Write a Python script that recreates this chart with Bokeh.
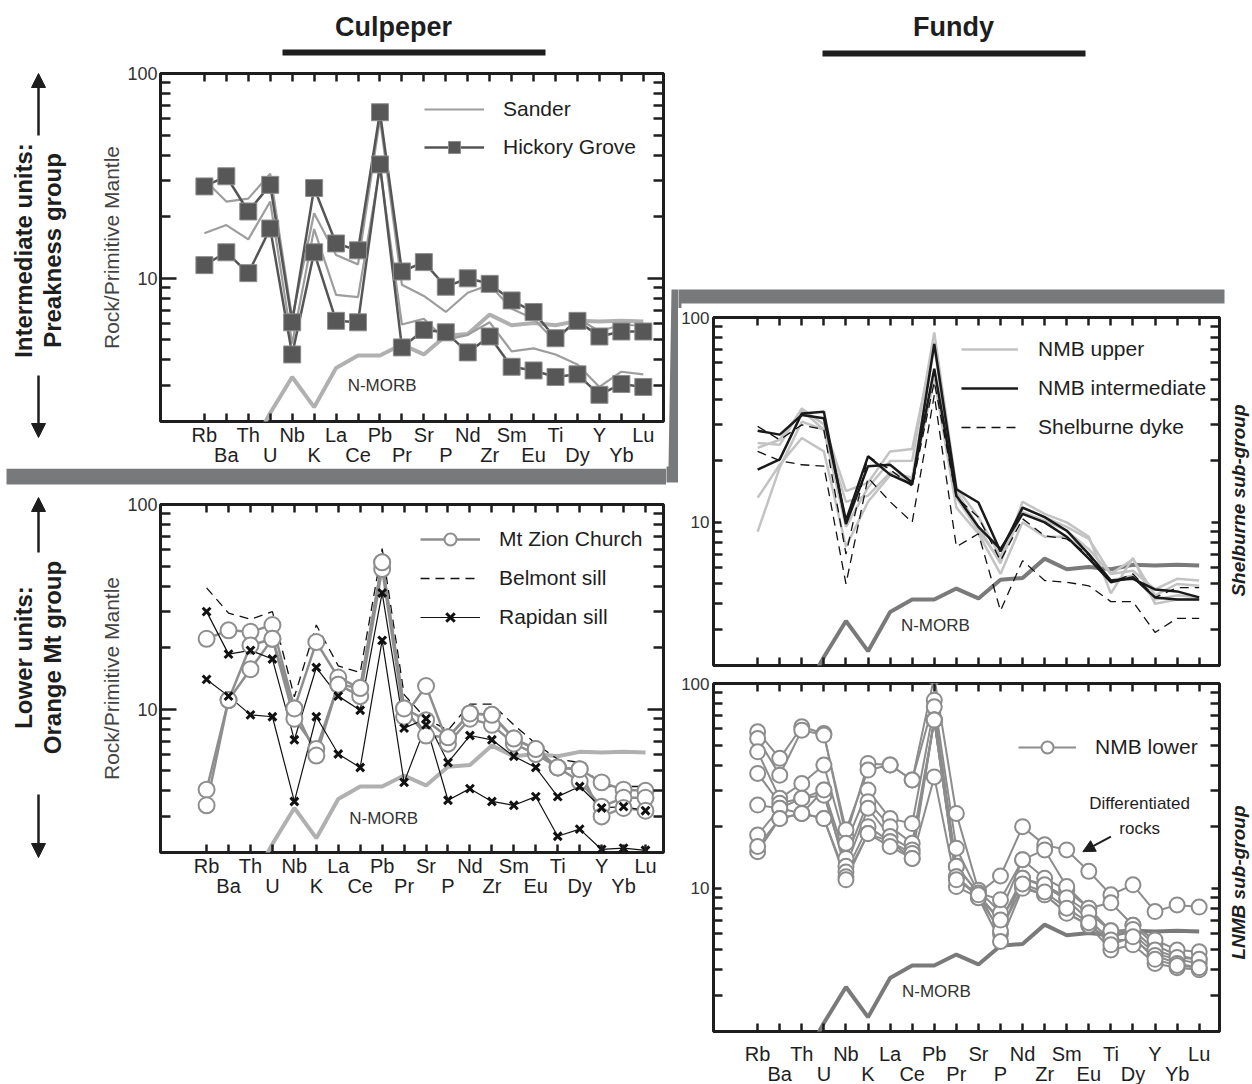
import math
from bokeh.plotting import figure
from bokeh.layouts import row, column
from bokeh.models import (Range1d, LogAxis, LinearAxis, FixedTicker, BasicTickFormatter,
                          Legend, LegendItem, Arrow, NormalHead)
from bokeh.core.properties import value
from bokeh.embed import file_html
from bokeh.resources import INLINE

FONT = "Liberation Sans"
INK = "#1e1e1e"

# ---------------- data ----------------
elements = ["Rb", "Ba", "Th", "U", "Nb", "K", "La", "Ce", "Pb", "Pr", "Sr",
            "P", "Nd", "Zr", "Sm", "Eu", "Ti", "Dy", "Y", "Yb", "Lu"]
pos = list(range(len(elements)))

n_morb = [0.9, 0.9, 1.4, 2.2, 3.3, 2.35, 3.65, 4.2, 4.2, 4.75, 4.25, 5.25, 5.35, 6.65, 5.9, 6.05, 5.9, 6.2, 6.15, 6.2, 6.15]

# Culpeper - intermediate units (Preakness group)
sander_1 = [30.3, 23.7, 24.5, 32.4, 6.4, 20.8, 13.0, 11.7, 60.0, 9.3, 8.2, 6.85, 8.5, 9.3, 7.1, 6.35, 4.9, 6.4, 5.5, 5.95, 5.85]
sander_2 = [16.6, 18.2, 15.5, 23.7, 4.8, 17.4, 8.3, 8.1, 34.6, 5.95, 6.35, 5.0, 5.3, 6.1, 4.4, 4.55, 4.25, 3.8, 2.95, 3.5, 3.4]
hickory_1 = [28.1, 31.5, 21.2, 28.6, 6.1, 27.6, 14.8, 13.7, 64.7, 10.8, 12.0, 9.1, 10.0, 9.4, 7.8, 6.85, 5.1, 6.2, 5.2, 5.5, 5.5]
hickory_2 = [11.6, 13.4, 10.6, 17.5, 4.25, 13.4, 6.2, 6.1, 36.0, 4.6, 5.6, 5.45, 4.35, 5.2, 3.7, 3.55, 3.3, 3.4, 2.7, 3.05, 2.95]

# Culpeper - lower units (Orange Mt group)
mtzion_1 = [22.1, 24.3, 23.9, 25.8, 10.1, 21.3, 14.3, 12.7, 52.2, 10.1, 7.45, 7.3, 9.55, 9.4, 7.2, 6.4, 5.2, 5.1, 4.4, 4.05, 4.0]
mtzion_2 = [4.05, 11.1, 20.5, 22.1, 9.0, 6.4, 13.2, 11.6, 48.4, 9.2, 13.0, 6.8, 9.0, 8.4, 6.8, 6.05, 5.2, 4.45, 3.35, 3.7, 3.7]
mtzion_3 = [3.4, 11.1, 15.7, 22.1, 10.1, 5.95, 13.2, 12.7, 52.2, 10.1, 8.85, 7.3, 9.55, 9.4, 7.2, 6.4, 5.2, 5.1, 3.0, 3.3, 3.2]
belmont = [39.2, 29.5, 27.5, 30.0, 11.5, 25.8, 16.3, 15.1, 60.9, 11.8, 9.0, 7.9, 10.6, 10.6, 8.4, 6.8, 5.7, 5.5, 4.2, 4.2, 4.2]
rapidan_1 = [30.0, 18.6, 19.4, 17.6, 7.1, 16.0, 11.6, 9.9, 37.0, 8.1, 9.0, 5.5, 7.45, 7.1, 5.9, 5.2, 3.75, 4.2, 3.3, 3.35, 3.2]
rapidan_2 = [14.0, 11.6, 9.4, 9.2, 3.55, 9.2, 6.05, 5.2, 21.7, 4.4, 8.4, 3.6, 4.1, 3.55, 3.4, 3.75, 2.4, 2.6, 2.07, 2.1, 2.05]

# Fundy - Shelburne sub-group
nmb_upper_1 = [9.0, 18.5, 31.0, 28.3, 9.5, 14.8, 19.9, 20.0, 84.6, 14.8, 10.6, 6.8, 11.8, 10.6, 9.5, 8.3, 5.6, 6.6, 4.4, 5.0, 4.9]
nmb_upper_2 = [13.2, 19.1, 25.8, 22.2, 7.6, 12.6, 17.0, 15.9, 50.0, 11.8, 8.8, 5.6, 10.0, 8.5, 8.5, 7.0, 5.2, 5.5, 4.2, 4.4, 4.3]
nmb_upper_3 = [24.4, 23.9, 36.0, 30.0, 14.2, 15.6, 22.2, 22.8, 75.7, 14.2, 9.5, 6.3, 12.6, 11.0, 10.0, 8.5, 4.5, 6.7, 4.0, 4.2, 4.2]
nmb_upper_4 = [23.1, 25.3, 35.3, 28.3, 12.6, 13.5, 17.5, 16.5, 72.9, 13.2, 9.1, 6.5, 11.2, 10.2, 9.1, 7.4, 5.6, 5.8, 4.7, 5.3, 5.2]
nmb_inter_1 = [28.0, 26.8, 33.4, 32.2, 10.2, 21.0, 17.1, 15.3, 74.3, 14.5, 12.5, 7.2, 11.8, 10.6, 9.1, 7.0, 5.2, 5.3, 4.7, 4.6, 4.3]
nmb_inter_2 = [18.1, 20.3, 34.0, 34.7, 9.8, 18.8, 19.1, 15.6, 56.2, 13.5, 9.5, 7.4, 11.0, 10.0, 8.5, 6.65, 5.1, 5.4, 4.3, 4.2, 4.2]
shelburne_1 = [29.4, 25.3, 29.9, 28.3, 7.0, 21.0, 18.1, 15.0, 48.5, 13.2, 10.6, 6.5, 10.4, 8.6, 8.3, 6.9, 5.1, 5.6, 4.3, 4.8, 4.8]
shelburne_2 = [22.2, 20.0, 19.1, 18.8, 5.0, 16.5, 12.6, 10.0, 41.8, 7.6, 8.8, 3.7, 6.5, 5.2, 5.1, 4.9, 4.1, 4.1, 2.9, 3.4, 3.4]

# Fundy - LNMB sub-group
nmb_lower_1 = [58.1, 43.1, 61.5, 57.0, 17.9, 40.7, 40.0, 33.8, 82.9, 15.7, 9.5, 6.0, 11.2, 10.2, 8.8, 7.0, 5.6, 6.6, 5.3, 4.7, 4.5]
nmb_lower_2 = [53.9, 35.7, 59.2, 56.0, 19.3, 37.8, 40.0, 33.8, 107.8, 23.2, 9.8, 7.6, 13.8, 11.2, 9.8, 8.0, 6.2, 6.0, 4.8, 4.5, 4.3]
nmb_lower_3 = [46.4, 27.5, 32.5, 40.0, 16.6, 30.2, 21.9, 20.7, 76.9, 12.8, 9.46, 11.5, 20.0, 16.3, 15.4, 12.1, 9.3, 10.4, 7.7, 8.3, 8.1]
nmb_lower_4 = [36.4, 26.0, 27.5, 30.2, 14.0, 26.5, 20.0, 16.6, 66.3, 12.8, 9.5, 8.8, 13.8, 15.4, 10.2, 8.0, 8.5, 6.6, 5.6, 5.0, 4.9]
nmb_lower_5 = [25.5, 24.6, 27.5, 28.5, 12.8, 24.6, 17.9, 15.4, 66.3, 11.4, 9.2, 6.9, 11.2, 10.4, 9.0, 7.6, 6.2, 6.3, 5.0, 4.6, 4.5]
nmb_lower_6 = [18.2, 24.6, 23.2, 30.2, 12.0, 20.0, 16.9, 14.8, 66.3, 11.4, 9.0, 6.2, 10.2, 9.3, 7.6, 6.6, 5.6, 5.6, 4.7, 4.3, 4.1]
nmb_lower_7 = [15.1, 21.9, 23.2, 21.9, 11.4, 18.5, 16.9, 14.0, 35.0, 10.2, 9.0, 5.5, 10.0, 9.3, 7.55, 6.6, 5.0, 5.3, 4.3, 4.1, 4.0]
nmb_lower_8 = [16.0, 21.9, 23.2, 21.9, 11.0, 18.5, 16.0, 14.0, 66.3, 11.0, 9.3, 7.0, 10.5, 9.6, 8.0, 6.8, 5.3, 5.8, 4.5, 4.2, 4.1]

Y_MAJOR = [10, 100]
Y_MINOR = [2, 3, 4, 5, 6, 7, 8, 9, 20, 30, 40, 50, 60, 70, 80, 90]
DASH = "9 6"


# ---------------- panel builder ----------------
def style_ticks(ax, tin, min_in, tout=0):
    ax.axis_line_color = None
    ax.major_tick_in = tin
    ax.major_tick_out = tout
    ax.minor_tick_in = min_in
    ax.minor_tick_out = 0
    ax.major_tick_line_color = INK
    ax.minor_tick_line_color = INK
    ax.major_tick_line_width = 2.5
    ax.minor_tick_line_width = 2.5


def make_panel(lb, rb, tb, bb, fw, xr, xlabels, xfont, xstand, ylabel,
               yfont, ystand, major_in, minor_in, nm_color, nm_xy):
    p = figure(frame_width=fw, frame_height=348, x_range=Range1d(*xr), y_range=Range1d(2, 100),
               y_axis_type="log", x_axis_location=None, y_axis_location=None,
               toolbar_location=None, output_backend="svg", title=None,
               min_border_left=lb, min_border_right=rb, min_border_top=tb, min_border_bottom=bb,
               outline_line_color=INK, outline_line_width=3,
               background_fill_color="white", border_fill_color="white")
    p.grid.visible = False

    la = LogAxis(ticker=FixedTicker(ticks=Y_MAJOR, minor_ticks=Y_MINOR), formatter=BasicTickFormatter())
    style_ticks(la, major_in, minor_in)
    la.major_label_overrides = {10: "10", 100: "100"}
    la.major_label_text_font = FONT
    la.major_label_text_font_size = yfont
    la.major_label_text_color = "#333333"
    la.major_label_standoff = ystand
    if ylabel:
        la.axis_label = ylabel
        la.axis_label_text_font = FONT
        la.axis_label_text_font_size = "21px"
        la.axis_label_text_font_style = "normal"
        la.axis_label_text_color = "#444444"
        la.axis_label_standoff = 1
    p.add_layout(la, "left")

    ra = LogAxis(ticker=FixedTicker(ticks=Y_MAJOR, minor_ticks=Y_MINOR), formatter=BasicTickFormatter())
    style_ticks(ra, major_in, minor_in)
    ra.major_label_text_font_size = "0px"
    ra.major_label_overrides = {10: "", 100: ""}
    ra.major_label_standoff = 0
    p.add_layout(ra, "right")

    ta = LinearAxis(ticker=FixedTicker(ticks=pos))
    style_ticks(ta, 8, 0)
    ta.major_label_text_font_size = "0px"
    ta.major_label_overrides = {i: "" for i in pos}
    ta.major_label_standoff = 0
    p.add_layout(ta, "above")

    ba = LinearAxis(ticker=FixedTicker(ticks=pos))
    style_ticks(ba, 8, 0)
    if xlabels:
        ba.major_label_overrides = {i: (elements[i] if i % 2 == 0 else "") for i in pos}
        ba.major_label_text_font = FONT
        ba.major_label_text_font_size = xfont
        ba.major_label_text_color = INK
        ba.major_label_standoff = xstand
        p.add_layout(ba, "below")
        odd = pos[1::2]
        b2 = LinearAxis(ticker=FixedTicker(ticks=odd))
        b2.axis_line_color = None
        b2.major_tick_line_color = None
        b2.major_tick_in = 0
        b2.major_tick_out = 0
        b2.major_label_overrides = {i: elements[i] for i in odd}
        b2.major_label_text_font = FONT
        b2.major_label_text_font_size = xfont
        b2.major_label_text_color = INK
        b2.major_label_standoff = -5
        p.add_layout(b2, "below")
    else:
        ba.major_label_text_font_size = "0px"
        ba.major_label_overrides = {i: "" for i in pos}
        ba.major_label_standoff = 0
        p.add_layout(ba, "below")

    p.line(pos, n_morb, line_color=nm_color, line_width=4)
    p.text(x=[nm_xy[0]], y=[nm_xy[1]], text=["N-MORB"], text_font=value(FONT),
           text_font_size="17px", text_color="#333333", text_align="center",
           text_baseline="middle")
    return p


def add_legend(p, items, loc, stand, gw, spacing):
    lg = Legend(items=[LegendItem(label=l, renderers=r) for l, r in items], location=loc)
    lg.glyph_width = gw
    lg.glyph_height = 30
    lg.label_height = 30
    lg.spacing = spacing
    lg.padding = 0
    lg.margin = 0
    lg.label_standoff = stand
    lg.border_line_color = None
    lg.background_fill_alpha = 0
    lg.label_text_font = FONT
    lg.label_text_font_size = "21px"
    lg.label_text_color = INK
    p.add_layout(lg)


# ---------------- top-left panel ----------------
tl = make_panel(65, 3, 11, 45, 503, (-2.0, 20.92), True, "20px", 2, "Rock/Primitive Mantle",
                "18px", 3, 16, 10, "#b0b0b0", (8.1, 3.0))
r_s = [tl.line(pos, s, line_color="#9d9d9d", line_width=2.2) for s in (sander_1, sander_2)]
r_h = [tl.line(pos, h, line_color="#555555", line_width=2.5) for h in (hickory_1, hickory_2)]
m_h = [tl.scatter(pos, h, marker="square", size=17, fill_color="#575757", line_color="#8d8d8d",
                  line_width=1) for h in (hickory_1, hickory_2)]
add_legend(tl, [("Sander", [r_s[0]]), ("Hickory Grove", [r_h[0], m_h[0]])], (264, 259), 19, 60, 8)

# ---------------- bottom-left panel ----------------
blp = make_panel(65, 3, 10, 44, 503, (-2.1, 20.82), True, "20px", 2, "Rock/Primitive Mantle",
                 "18px", 3, 16, 10, "#b0b0b0", (8.07, 2.92))
r_b = blp.line(pos, belmont, line_color="#111111", line_width=1.3, line_dash=DASH)
r_m = [blp.line(pos, m, line_color="#8e8e8e", line_width=2.5) for m in (mtzion_1, mtzion_2, mtzion_3)]
r_r = [blp.line(pos, r, line_color="#111111", line_width=1.2) for r in (rapidan_1, rapidan_2)]
m_m = [blp.scatter(pos, m, marker="circle", size=16, fill_color="white", line_color="#8e8e8e",
                   line_width=2) for m in (mtzion_1, mtzion_2, mtzion_3)]
m_r = [blp.scatter(pos, r, marker="x", size=11, line_color="#111111", line_width=3)
       for r in (rapidan_1, rapidan_2)]
add_legend(blp, [("Mt Zion Church", [r_m[0], m_m[0]]), ("Belmont sill", [r_b]),
                 ("Rapidan sill", [r_r[0], m_r[0]])], (260, 220), 19, 60, 9)

# ---------------- top-right panel ----------------
trp = make_panel(34, 3, 9, 4, 506, (-2.0, 20.92), False, "20px", 0, None,
                 "17px", 4, 8, 9, "#7a7a7a", (8.05, 3.12))
r_u = [trp.line(pos, u, line_color="#c3c3c3", line_width=2.5)
       for u in (nmb_upper_1, nmb_upper_2, nmb_upper_3, nmb_upper_4)]
r_i = [trp.line(pos, b, line_color="#1a1a1a", line_width=2.5) for b in (nmb_inter_1, nmb_inter_2)]
r_d = [trp.line(pos, d, line_color="#111111", line_width=1.3, line_dash=DASH)
       for d in (shelburne_1, shelburne_2)]
add_legend(trp, [("NMB upper", [r_u[0]]), ("NMB intermediate", [r_i[0]]),
                 ("Shelburne dyke", [r_d[0]])], (248, 223), 20, 57, 9)

# ---------------- bottom-right panel ----------------
lnp = make_panel(34, 3, 14, 52, 506, (-2.0, 20.92), True, "20px", 11, None,
                 "17px", 4, 8, 9, "#7a7a7a", (8.1, 3.13))
lower = [nmb_lower_1, nmb_lower_2, nmb_lower_3, nmb_lower_4,
         nmb_lower_5, nmb_lower_6, nmb_lower_7, nmb_lower_8]
r_l = [lnp.line(pos, s, line_color="#8c8c8c", line_width=2) for s in lower]
m_l = [lnp.scatter(pos, s, marker="circle", size=15, fill_color="white", line_color="#8c8c8c",
                   line_width=2) for s in lower]
add_legend(lnp, [("NMB lower", [r_l[0], m_l[0]])], (305, 269), 19, 58, 8)
lnp.text(x=[17.3, 17.3], y=[25.9, 19.6], text=["Differentiated", "rocks"], text_font=value(FONT),
         text_font_size="17px", text_color=INK, text_align="center", text_baseline="middle")
lnp.add_layout(Arrow(end=NormalHead(size=12, fill_color=INK, line_color=INK),
                     x_start=16.0, y_start=17.9, x_end=14.73, y_end=15.1,
                     line_color=INK, line_width=2))

# ---------------- decorations (page pixel coordinates) ----------------
band_x = [6, 668, 671, 1224, 1224, 681, 678, 6]
band_y = [466, 466, 289, 289, 303, 303, 482, 482]
bars = [(282, 545, 49, 55), (822, 1085, 50, 56)]
titles = [(393, 26, "Culpeper"), (953, 26, "Fundy")]
side_texts = [(23, 250, "Intermediate units:"), (52, 250, "Preakness group"),
              (23, 655, "Lower units:"), (52, 655, "Orange Mt group")]
side_arrows = [(38, 135, 38, 73), (38, 375, 38, 437), (38, 550, 38, 495), (38, 792, 38, 855)]
right_texts = [(1237, 500, "Shelburne sub-group"), (1237, 882, "LNMB sub-group")]


def deco(x0, x1, y0, y1):
    f = figure(width=x1 - x0, height=y1 - y0, x_range=Range1d(x0, x1), y_range=Range1d(y1, y0),
               x_axis_location=None, y_axis_location=None, toolbar_location=None,
               output_backend="svg", title=None, min_border=0, outline_line_color=None,
               background_fill_color="white", border_fill_color="white")
    f.grid.visible = False
    f.patch(band_x, band_y, fill_color="#78797b", line_color=None)
    for (a, b, c, d) in bars:
        if a < x1 and b > x0 and c < y1 and d > y0:
            f.quad(left=[a], right=[b], top=[c], bottom=[d], fill_color=INK, line_color=None)
    for (tx, ty, t) in titles:
        if x0 <= tx <= x1 and y0 <= ty <= y1:
            f.text(x=[tx], y=[ty], text=[t], text_font=value(FONT), text_font_style="bold",
                   text_font_size="27px", text_color=INK, text_align="center",
                   text_baseline="middle")
    for (tx, ty, t) in side_texts:
        if x0 <= tx <= x1 and y0 <= ty <= y1:
            f.text(x=[tx], y=[ty], text=[t], text_font=value(FONT), text_font_style="bold",
                   text_font_size="24px", text_color=INK, text_align="center",
                   text_baseline="middle", angle=math.pi / 2)
    for (tx, ty, t) in right_texts:
        if x0 <= tx <= x1 and y0 <= ty <= y1:
            f.text(x=[tx], y=[ty], text=[t], text_font=value(FONT), text_font_style="bold italic",
                   text_font_size="19px", text_color=INK, text_align="center",
                   text_baseline="middle", angle=math.pi / 2)
    for (xa, ya, xb, yb) in side_arrows:
        if x0 <= xa <= x1 and y0 <= min(ya, yb) and max(ya, yb) <= y1:
            f.add_layout(Arrow(end=NormalHead(size=14, fill_color=INK, line_color=INK),
                               x_start=xa, y_start=ya, x_end=xb, y_end=yb,
                               line_color=INK, line_width=2.5))
    return column(f)


L_title = deco(0, 666, 0, 62)
L_side1 = deco(0, 95, 62, 466)
L_band = deco(0, 666, 466, 492)
L_side2 = deco(0, 95, 492, 894)
strip = deco(666, 678, 0, 1083)
R_title = deco(678, 1251, 0, 308)
R_labels = deco(1221, 1251, 308, 1083)

left_col = column(L_title, row(L_side1, column(tl)), L_band, row(L_side2, column(blp)))
right_col = column(R_title, row(column(trp, lnp), R_labels))
page = row(left_col, strip, right_col)

open("out.html", "w").write(file_html(page, INLINE, title="Spider diagrams"))
